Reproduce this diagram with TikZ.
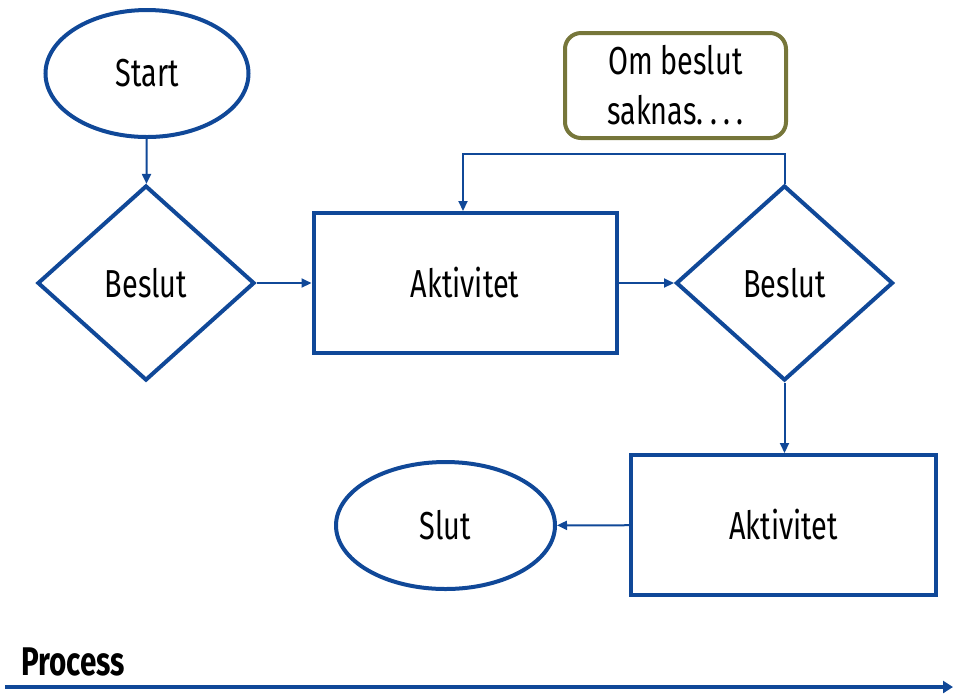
\documentclass[tikz,border=0pt]{standalone}
\usepackage{fontspec}
\setmainfont[FakeStretch=0.74]{Fira Sans}
\usetikzlibrary{shapes,positioning,arrows.meta}
\definecolor{flowblue}{RGB}{16,72,152}
\definecolor{noteolive}{RGB}{118,118,58}

\begin{document}
\begin{tikzpicture}[x=0.5pt,y=-0.5pt,
    every node/.style={font=\fontsize{19.5}{25}\selectfont, inner sep=0pt},
    term/.style={ellipse, draw=flowblue, line width=2pt},
    decision/.style={diamond, draw=flowblue, line width=2pt, minimum width=108.5pt, minimum height=97.5pt},
    activity/.style={rectangle, draw=flowblue, line width=2pt, minimum width=151.5pt, minimum height=70pt},
    note/.style={rectangle, rounded corners=8pt, draw=noteolive, line width=2pt, minimum width=110.5pt, minimum height=52.5pt, align=center},
    conn/.style={draw=flowblue, line width=1pt, -{Triangle[length=5pt,width=4.5pt]}}]
    \useasboundingbox (0,0) rectangle (953,693);
    % flow
    \node [term, minimum width=101.5pt, minimum height=63.5pt] (start) at (147,73.5) {Start};
    \node [decision] (beslut1) at (146,283) {Beslut};
    \node [activity] (akt1) at (465,283) {Aktivitet};
    \node [decision] (beslut2) at (784.5,283) {Beslut};
    \node [note] (saknas) at (675.5,85.5) {Om beslut\\saknas.\,.\,.\,.};
    \node [activity, minimum width=152.5pt] (akt2) at (783.5,525) {Aktivitet};
    \node [term, minimum width=109.5pt, minimum height=63.5pt] (slut) at (445.5,525.5) {Slut};
    \draw [conn] (start) -- (beslut1);
    \draw [conn] (beslut1) -- (akt1);
    \draw [conn] (akt1) -- (beslut2);
    \draw [conn] (beslut2.north) -- ++(0,-30) -| ([xshift=-1pt]akt1.north);
    \draw [conn] (beslut2.south) -- (beslut2.south |- akt2.north);
    \draw [conn] (akt2) -- (slut);
    % process axis
    \node [font=\fontsize{20}{22}\selectfont\bfseries, anchor=west] (process) at (21,662) {Process};
    \coordinate (axisA) at (5,687);
    \coordinate (axisB) at (953,687);
    \draw [draw=flowblue, line width=2pt, -{Triangle[length=5pt,width=6pt]}] (axisA) -- (axisB);
\end{tikzpicture}
\end{document}
